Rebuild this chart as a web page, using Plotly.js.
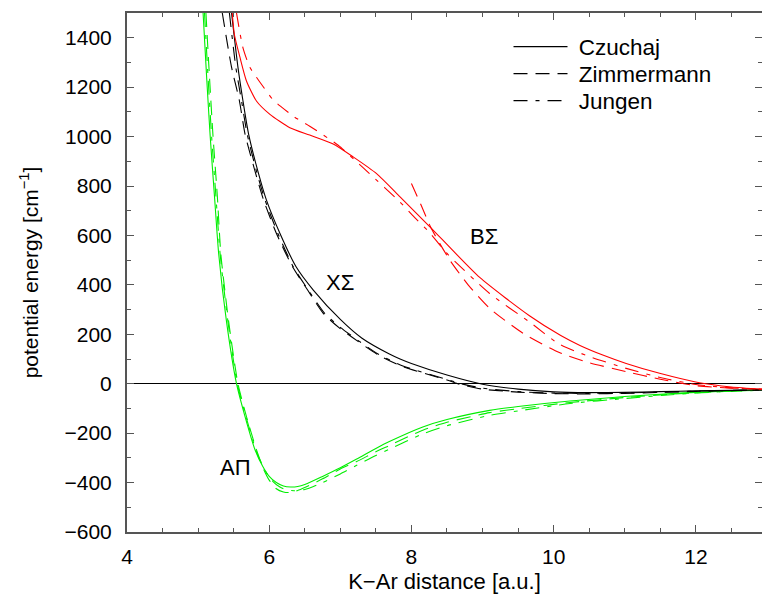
<!DOCTYPE html>
<html><head><meta charset="utf-8">
<script src="https://cdn.plot.ly/plotly-3.0.1.min.js"></script>
<style>html,body{margin:0;padding:0;background:#fff}#plot{width:762px;height:594px}</style>
</head><body><div id="plot"></div>
<script>
// A Pi state
const aCzX = [5.07,5.12,5.17,5.23,5.29,5.40,5.54,5.66,5.80,5.91,6.00,6.10,6.20,6.30,6.40,6.50,6.75,7.00,7.23,7.50,7.69,8.16,8.50,9.10,9.50,10.23,11.00,11.77,12.40,12.93];
const aCzY = [1500,1240,1000,760,524,250,0,-133,-267,-335,-375,-400,-414,-418,-416,-408,-375,-340,-305,-262,-234,-175,-145,-108,-92,-70,-52,-38,-30,-25];
const aZiX = [5.11,5.16,5.21,5.27,5.32,5.43,5.56,5.68,5.82,5.92,6.00,6.10,6.20,6.28,6.40,6.50,6.75,7.00,7.23,7.50,7.69,8.16,8.50,9.10,9.50,10.23,11.00,11.77,12.40,12.93];
const aZiY = [1500,1240,1000,760,524,250,0,-133,-267,-345,-390,-425,-438,-440,-432,-420,-385,-345,-315,-275,-250,-188,-156,-117,-101,-76,-56,-40,-31,-26];
const aJuX = [5.09,5.14,5.19,5.25,5.31,5.42,5.55,5.68,5.82,5.95,6.05,6.15,6.25,6.35,6.50,6.75,7.00,7.23,7.50,7.69,8.16,8.50,9.10,9.50,10.23,11.00,11.77,12.40,12.93];
const aJuY = [1500,1240,1000,760,524,250,0,-140,-275,-355,-395,-418,-430,-433,-428,-400,-365,-330,-290,-265,-203,-170,-128,-110,-80,-60,-42,-32,-26];
// X Sigma state
const xCzX = [5.47,5.56,5.63,5.71,5.85,5.96,6.15,6.38,6.62,7.00,7.30,7.69,7.84,8.00,8.50,9.00,9.50,10.00,10.50,11.00,11.50,12.00,12.50,12.93];
const xCzY = [1500,1281,1146,1010,850,744,609,472,379,260,185,120,100,82,35,-2,-22,-33,-36,-35,-32,-29,-27,-25];
const xZiX = [5.34,5.47,5.58,5.66,5.81,5.92,6.10,6.33,6.54,6.76,6.99,7.53,7.88,8.50,8.65,9.00,9.50,10.00,10.50,11.00,11.50,12.00,12.50,12.93];
const xZiY = [1500,1281,1146,1010,850,744,609,472,379,285,225,117,69,15,0,-22,-34,-40,-41,-39,-35,-31,-28,-25];
const xJuX = [5.44,5.53,5.61,5.69,5.83,5.94,6.12,6.34,6.55,6.78,7.00,7.53,7.88,8.50,8.70,9.00,9.50,10.00,10.50,11.00,11.50,12.00,12.50,12.93];
const xJuY = [1500,1281,1146,1010,850,744,609,472,379,285,228,120,72,17,0,-18,-32,-38,-39,-37,-34,-30,-27,-25];
// B Sigma state
const bCzX = [5.48,5.51,5.59,5.68,5.82,6.01,6.29,6.57,6.90,7.18,7.51,7.84,8.26,8.96,9.66,10.10,10.37,10.70,11.02,11.49,12.05,12.50,12.93];
const bCzY = [1500,1413,1319,1225,1144,1090,1036,1006,970,918,850,756,635,430,275,195,155,115,82,42,4,-13,-22];
const bZiX = [8.00,8.14,8.28,8.54,8.80,9.10,9.57,10.08,10.50,11.02,11.50,12.00,12.50,12.93];
const bZiY = [810,720,628,500,399,305,204,126,85,49,18,-8,-18,-22];
const bJuX = [5.54,5.63,5.73,5.87,6.05,6.17,6.35,6.57,6.97,7.13,7.25,7.41,7.84,8.02,8.26,8.49,9.10,9.66,10.08,10.50,11.02,11.50,12.00,12.50,12.93];
const bJuY = [1500,1360,1279,1220,1150,1120,1080,1042,965,924,893,850,735,680,610,530,365,250,160,110,62,25,-3,-17,-22];

const legendNames = ["Czuchaj","Zimmermann","Jungen"];
const labels = ["X\u03A3","B\u03A3","A\u03A0"];
const labelX = [6.99, 9.02, 5.53];
const labelY = [410, 594, -340];

const DASH_Z = "14px,8px";
const DASH_J = "14px,8px,4px,8px";
function tr(x,y,color,dash){
  return {x:x,y:y,type:'scatter',mode:'lines',showlegend:false,hoverinfo:'skip',
    line:{color:color,width:1.1,dash:dash,shape:'spline',smoothing:0.6}};
}
const data = [
  tr(aCzX,aCzY,'#00ee00','solid'), tr(aZiX,aZiY,'#00ee00',DASH_Z), tr(aJuX,aJuY,'#00ee00',DASH_J),
  tr(xCzX,xCzY,'#000000','solid'), tr(xZiX,xZiY,'#000000',DASH_Z), tr(xJuX,xJuY,'#000000',DASH_J),
  tr(bCzX,bCzY,'#ff0000','solid'), tr(bZiX,bZiY,'#ff0000',DASH_Z), tr(bJuX,bJuY,'#ff0000',DASH_J)
];
const legDash = ['solid',DASH_Z,DASH_J];
const legIds = ['legend','legend2','legend3'];
legendNames.forEach((n,i)=>data.push({x:[null],y:[null],type:'scatter',mode:'lines',name:'\u00a0'+n,
  legend:legIds[i], line:{color:'#000',width:1.1,dash:legDash[i]}}));

const fam = '"Liberation Sans", Arial, sans-serif';
const font = {family:fam, size:21, color:'#000'};
const legRowsPx = [47, 74, 101];
function legendAt(py){
  return {x:0.6008,y:1-(py-13)/519,xanchor:'left',yanchor:'middle',bgcolor:'rgba(0,0,0,0)',
    font:{family:fam,size:22.5,color:'#000'},itemwidth:54};
}
const layout = {
  width:762,height:594,
  margin:{l:127,r:0,t:13,b:62},
  paper_bgcolor:'#fff',plot_bgcolor:'#fff',
  font:font,
  showlegend:true,
  legend:legendAt(legRowsPx[0]), legend2:legendAt(legRowsPx[1]), legend3:legendAt(legRowsPx[2]),
  xaxis:{range:[4,12.93],showgrid:false,zeroline:false,showline:true,linecolor:'#555',linewidth:2,
    mirror:'ticks',ticks:'inside',ticklen:7,tickwidth:1,tickcolor:'#555',dtick:2,tick0:4,
    minor:{dtick:0.5,ticks:'inside',ticklen:4,tickcolor:'#555',tickwidth:1},
    ticklabelstandoff:5,
    tickfont:font,title:{text:'K\u2212Ar distance [a.u.]',font:{family:fam,size:22,color:'#000'},standoff:8}},
  yaxis:{range:[-600,1500],showgrid:false,zeroline:true,zerolinecolor:'#000',zerolinewidth:1,
    showline:true,linecolor:'#555',linewidth:2,mirror:'ticks',ticks:'inside',ticklen:7,tickwidth:1,tickcolor:'#555',
    dtick:200,tick0:0,minor:{dtick:100,ticks:'inside',ticklen:4,tickcolor:'#555',tickwidth:1},
    ticklabelstandoff:9,
    tickfont:font,title:{text:'potential energy [cm<sup>\u22121</sup>]',font:font,standoff:20}},
  annotations: labels.map((t,i)=>({x:labelX[i],y:labelY[i],xref:'x',yref:'y',text:t,showarrow:false,
    font:{family:fam,size:22,color:'#000'},xanchor:'center',yanchor:'middle'}))
};
Plotly.newPlot('plot',data,layout,{displayModeBar:false,staticPlot:true});
</script></body></html>
